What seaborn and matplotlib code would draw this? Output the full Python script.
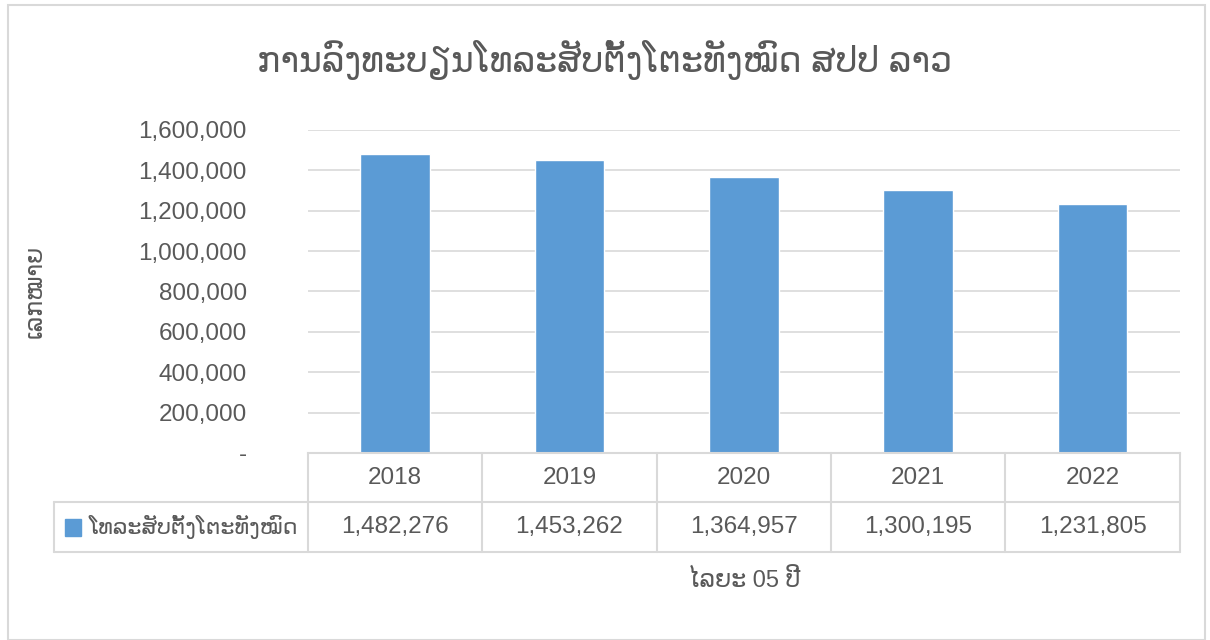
import numpy as np
import pandas as pd
import matplotlib
matplotlib.use("Agg")
import matplotlib.pyplot as plt
import matplotlib.patches as mpatches
import seaborn as sns

# ── data ──────────────────────────────────────────────────────────────────────
years = ["2018", "2019", "2020", "2021", "2022"]
lines_total = [1482276, 1453262, 1364957, 1300195, 1231805]
series_name = "ໂທລະສັບຕັ້ງໂຕະທັງໝົດ"
title = "ການລົງທະບຽນໂທລະສັບຕັ້ງໂຕະທັງໝົດ ສປປ ລາວ"
y_label = "ເລກໝາຍ"
x_label = "ໄລຍະ 05 ປີ"
y_ticks = [0, 200000, 400000, 600000, 800000, 1000000, 1200000, 1400000, 1600000]

BAR = "#5B9BD5"
TXT = "#595959"
GRID = "#D9D9D9"

sns.set_theme(style="white")
plt.rcParams["font.family"] = ["Liberation Sans", "DejaVu Sans"]

df = pd.DataFrame({"year": years, "value": lines_total})

fig = plt.figure(figsize=(12.1, 6.4), dpi=100)
ax = fig.add_axes([0.2545, 0.2922, 0.7205, 0.5048])

sns.barplot(data=df, x="year", y="value", color=BAR, width=0.4,
            saturation=1, ax=ax)

ax.set_ylim(0, y_ticks[-1])
ax.set_xlim(-0.5, len(years) - 0.5)
ax.set_yticks(y_ticks)
ax.set_yticklabels(["-" if v == 0 else f"{v:,}" for v in y_ticks])
ax.yaxis.grid(True, color=GRID, lw=1.2)
ax.set_axisbelow(True)
ax.tick_params(axis="y", length=0, pad=44, labelsize=17.5, labelcolor=TXT)
ax.set_xticks([])
ax.set_xlabel("")
for s in ["left", "right", "top"]:
    ax.spines[s].set_visible(False)
ax.spines["bottom"].set_color(GRID)
ax.spines["bottom"].set_linewidth(1.5)

ax.set_ylabel(y_label, fontsize=17, color=TXT)
ax.yaxis.set_label_coords(-0.30, 0.5)

# ── data table under the plot ─────────────────────────────────────────────────
tr = ax.get_xaxis_transform()
row_h = 0.153
left_edge = (54 - 308) / 872 * len(years) - 0.5   # table label column edge
kw = dict(color=GRID, lw=1.5, transform=tr, clip_on=False)

# horizontal lines
ax.plot([left_edge, len(years) - 0.5], [-row_h, -row_h], **kw)
ax.plot([left_edge, len(years) - 0.5], [-2 * row_h, -2 * row_h], **kw)
# vertical lines
for i in range(len(years) + 1):
    ax.plot([i - 0.5, i - 0.5], [0, -2 * row_h], **kw)
ax.plot([left_edge, left_edge], [-row_h, -2 * row_h], **kw)

for i, (yr, v) in enumerate(zip(years, lines_total)):
    ax.text(i, -row_h / 2, yr, transform=tr, ha="center", va="center",
            fontsize=17.5, color=TXT)
    ax.text(i, -1.5 * row_h, f"{v:,}", transform=tr, ha="center",
            va="center", fontsize=17.5, color=TXT)

# legend key + series name in the table's first column
key_w = 16 / 872 * len(years)
ax.add_patch(mpatches.Rectangle((left_edge + 11 / 872 * len(years), -1.5 * row_h - 0.026),
                                key_w, 0.052, color=BAR, transform=tr,
                                clip_on=False))
ax.text(left_edge + 34 / 872 * len(years), -1.5 * row_h, series_name,
        transform=tr, ha="left", va="center", fontsize=16, color=TXT)

ax.text(2, -2 * row_h - 0.09, x_label, transform=tr, ha="center",
        va="center", fontsize=17, color=TXT)

fig.text(0.5, 1 - 60 / 640, title, ha="center", va="center",
         fontsize=25, color=TXT)

# chart-area border
fig.patches.append(mpatches.Rectangle((8 / 1210, 0.0), 1197 / 1210, 1 - 5 / 640,
                                      transform=fig.transFigure, fill=False,
                                      edgecolor=GRID, lw=1.5))

fig.savefig("out.png", dpi=100)
